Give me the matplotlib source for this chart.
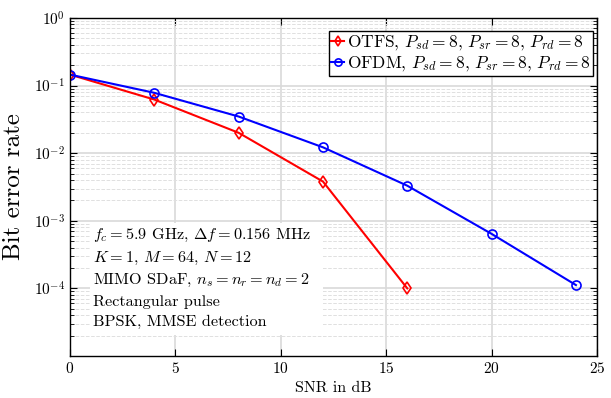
import numpy as np
import matplotlib
matplotlib.use("Agg")
import matplotlib.pyplot as plt
from matplotlib.patches import Rectangle

plt.rcParams["font.family"] = "serif"
plt.rcParams["font.serif"] = ["cmr10", "DejaVu Serif"]
plt.rcParams["mathtext.fontset"] = "cm"
plt.rcParams["axes.formatter.use_mathtext"] = True

snr_otfs = [0, 4, 8, 12, 16]
ber_otfs = [0.145, 0.062, 0.020, 0.0038, 1.0e-4]
snr_ofdm = [0, 4, 8, 12, 16, 20, 24]
ber_ofdm = [0.145, 0.078, 0.0348, 0.0122, 0.0033, 6.4e-4, 1.12e-4]

lbl_otfs = r"OTFS, $P_{sd}=8$, $P_{sr}=8$, $P_{rd}=8$"
lbl_ofdm = r"OFDM, $P_{sd}=8$, $P_{sr}=8$, $P_{rd}=8$"
info = "\n".join([
    r"$f_c=5.9$ GHz, $\Delta f=0.156$ MHz",
    r"$K=1$, $M=64$, $N=12$",
    r"MIMO SDaF, $n_s=n_r=n_d=2$",
    "Rectangular pulse",
    "BPSK, MMSE detection",
])

fig = plt.figure(figsize=(6.11, 3.98), dpi=100)
ax = fig.add_axes([0.1146, 0.1055, 0.8625, 0.8495])

ax.semilogy(snr_otfs, ber_otfs, color="red", lw=1.5, marker="d", ms=6.5,
            mfc="none", mew=1.2, label=lbl_otfs)
ax.semilogy(snr_ofdm, ber_ofdm, color="blue", lw=1.5, marker="o", ms=6.5,
            mfc="none", mew=1.2, label=lbl_ofdm)

ax.set_xlim(0, 25)
ax.set_ylim(1e-5, 1)
ax.set_xticks([0, 5, 10, 15, 20, 25])
ax.set_yticks([1e0, 1e-1, 1e-2, 1e-3, 1e-4])
ax.tick_params(which="both", direction="in", top=True, right=True, labelsize=11)
ax.tick_params(which="major", length=5)
ax.tick_params(which="minor", length=3)

ax.grid(True, which="major", color="#d9d9d9", lw=1.2, ls="-")
ax.grid(True, which="minor", axis="y", color="#e0e0e0", lw=0.7, ls="--")
ax.set_axisbelow(True)
for s in ax.spines.values():
    s.set_linewidth(1.0)

ax.set_xlabel("SNR in dB", fontsize=11.5, labelpad=4)
ax.set_ylabel("Bit error rate", fontsize=18, labelpad=6)

leg = ax.legend(loc="upper right", bbox_to_anchor=(0.9924, 0.9615), borderaxespad=0,
                fontsize=12.5, handlelength=0.75, handletextpad=0.15,
                borderpad=0.15, labelspacing=0.12, markerscale=0.8,
                fancybox=False, framealpha=1, edgecolor="black")
leg.get_frame().set_linewidth(1.0)

# white box behind the parameter notes
ax.add_patch(Rectangle((0.038, 0.062), 0.442, 0.3315, transform=ax.transAxes,
                       facecolor="white", edgecolor="none", zorder=1.5))
ax.text(0.0436, 0.383, info, transform=ax.transAxes, fontsize=11.7, va="top", ha="left",
        linespacing=1.49, zorder=3)

fig.savefig("out.png", dpi=100)
